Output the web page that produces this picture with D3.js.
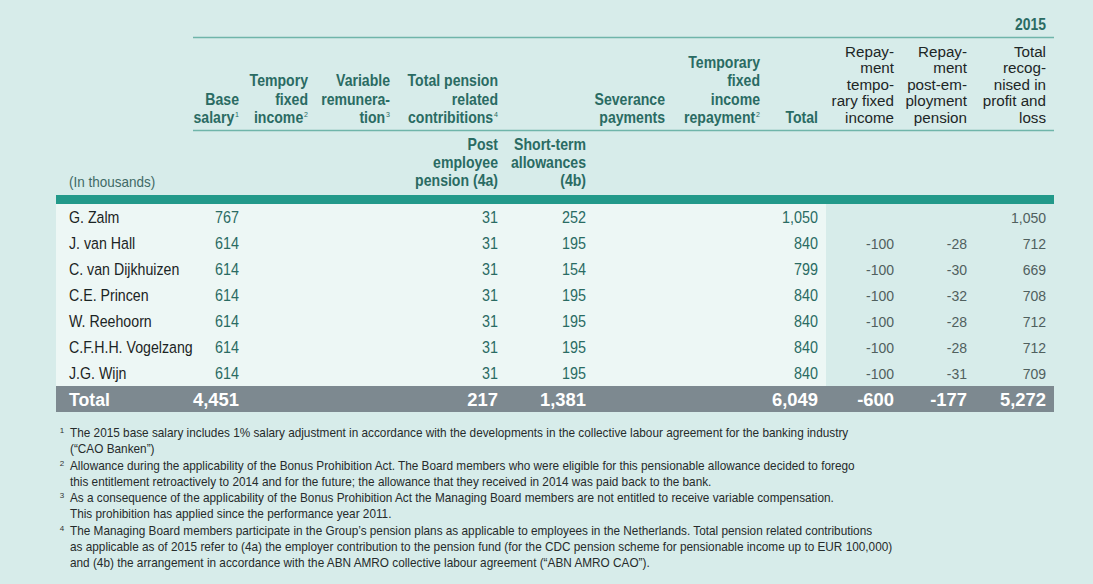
<!DOCTYPE html>
<html>
<head>
<meta charset="utf-8">
<script src="https://cdn.jsdelivr.net/npm/d3@7"></script>
<style>
  body { margin: 0; background: #d7ecea; }
  svg { display: block; }
</style>
</head>
<body>
<div id="chart"></div>
<script>
// rows
const names = ["G. Zalm", "J. van Hall", "C. van Dijkhuizen", "C.E. Princen", "W. Reehoorn", "C.F.H.H. Vogelzang", "J.G. Wijn"];

// series values (in thousands), null = empty cell
const baseSalary = [767, 614, 614, 614, 614, 614, 614];
const temporyFixedIncome = [null, null, null, null, null, null, null];
const variableRemuneration = [null, null, null, null, null, null, null];
const postEmployeePension = [31, 31, 31, 31, 31, 31, 31];
const shortTermAllowances = [252, 195, 154, 195, 195, 195, 195];
const severancePayments = [null, null, null, null, null, null, null];
const tempFixedIncomeRepayment = [null, null, null, null, null, null, null];
const totalComp = [1050, 840, 799, 840, 840, 840, 840];
const repayTemporary = [null, -100, -100, -100, -100, -100, -100];
const repayPension = [null, -28, -30, -32, -28, -28, -31];
const totalRecognised = [1050, 712, 669, 708, 712, 712, 709];

// totals row as printed
const totalsRow = [4451, null, null, 217, 1381, null, null, 6049, -600, -177, 5272];

const yearLabel = "2015";
const unitLabel = "(In thousands)";

// header labels, one entry per line, [text, superscript]
const headers = [
  [["Base"], ["salary", "1"]],
  [["Tempory"], ["fixed"], ["income", "2"]],
  [["Variable"], ["remunera-"], ["tion", "3"]],
  [["Total pension"], ["related"], ["contribitions", "4"]],
  [],
  [["Severance"], ["payments"]],
  [["Temporary"], ["fixed"], ["income"], ["repayment", "2"]],
  [["Total"]],
  [["Repay-"], ["ment"], ["tempo-"], ["rary fixed"], ["income"]],
  [["Repay-"], ["ment"], ["post-em-"], ["ployment"], ["pension"]],
  [["Total"], ["recog-"], ["nised in"], ["profit and"], ["loss"]]
];
const subHeaders = [
  null, null, null,
  ["Post", "employee", "pension (4a)"],
  ["Short-term", "allowances", "(4b)"],
  null, null, null, null, null, null
];

const footnotes = [
  ["1", ["The 2015 base salary includes 1% salary adjustment in accordance with the developments in the collective labour agreement for the banking industry",
         "(\u201CCAO Banken\u201D)"]],
  ["2", ["Allowance during the applicability of the Bonus Prohibition Act. The Board members who were eligible for this pensionable allowance decided to forego",
         "this entitlement retroactively to 2014 and for the future; the allowance that they received in 2014 was paid back to the bank."]],
  ["3", ["As a consequence of the applicability of the Bonus Prohibition Act the Managing Board members are not entitled to receive variable compensation.",
         "This prohibition has applied since the performance year 2011."]],
  ["4", ["The Managing Board members participate in the Group\u2019s pension plans as applicable to employees in the Netherlands. Total pension related contributions",
         "as applicable as of 2015 refer to (4a) the employer contribution to the pension fund (for the CDC pension scheme for pensionable income up to EUR 100,000)",
         "and (4b) the arrangement in accordance with the ABN AMRO collective labour agreement (\u201CABN AMRO CAO\u201D)."]]
];

const columns = [baseSalary, temporyFixedIncome, variableRemuneration, postEmployeePension,
  shortTermAllowances, severancePayments, tempFixedIncomeRepayment, totalComp,
  repayTemporary, repayPension, totalRecognised];

// layout
const width = 1093, height = 584;
const colRight = [239, 308, 390, 498, 586, 665, 760, 818, 894, 967, 1046];
const tableLeft = 56, tableRight = 1054, headLeft = 193, lightRight = 826;
const font = "'Liberation Sans', Arial, Helvetica, sans-serif";
const teal = "#2a6b63";

const fmt = d3.formatLocale({ decimal: ".", thousands: ",", grouping: [3], currency: ["", ""], minus: "-" }).format(",");

const svg = d3.select("#chart").append("svg")
  .attr("width", width).attr("height", height)
  .attr("viewBox", [0, 0, width, height]);

svg.append("rect").attr("width", width).attr("height", height).attr("fill", "#d7ecea");

// narrow text: the print uses a condensed face, so squeeze horizontally
function ctext(parent, x, y, o) {
  return parent.append("text")
    .attr("transform", `translate(${x},${y}) scale(${o.sx || 1},1)`)
    .attr("text-anchor", o.anchor || "start")
    .attr("font-family", font)
    .attr("font-size", o.size)
    .attr("font-weight", o.bold ? "bold" : "normal")
    .attr("fill", o.fill);
}

const y = d3.scaleBand().domain(d3.range(names.length + 1)).range([204, 412]).paddingInner(0);

// light body background for left part of table
svg.append("rect")
  .attr("x", tableLeft).attr("y", y(0))
  .attr("width", lightRight - tableLeft).attr("height", y(names.length) - y(0))
  .attr("fill", "#edf7f5");

// teal bar and header rules
svg.append("rect").attr("x", tableLeft).attr("y", 195).attr("width", tableRight - tableLeft).attr("height", 9).attr("fill", "#22998a");
svg.append("line").attr("x1", headLeft).attr("x2", tableRight).attr("y1", 37.5).attr("y2", 37.5).attr("stroke", "#6fb5aa").attr("stroke-width", 1.5);
svg.append("line").attr("x1", headLeft).attr("x2", tableRight).attr("y1", 130.5).attr("y2", 130.5).attr("stroke", "#6fb5aa").attr("stroke-width", 1.5);

// total row bar
svg.append("rect")
  .attr("x", tableLeft).attr("y", y(names.length))
  .attr("width", tableRight - tableLeft).attr("height", y.bandwidth())
  .attr("fill", "#7d8990");

ctext(svg, colRight[10], 30, { anchor: "end", size: 16, bold: true, sx: 0.87, fill: teal }).text(yearLabel);

// header lines
headers.forEach((lines, i) => {
  const dark = i >= 8;
  const lh = dark ? 16.6 : 18.4;
  lines.forEach((ln, j) => {
    const t = ctext(svg, colRight[i], 123 - (lines.length - 1 - j) * lh, dark
      ? { anchor: "end", size: 15.5, sx: 0.98, fill: "#1d2626" }
      : { anchor: "end", size: 16, bold: true, sx: 0.88, fill: teal });
    t.append("tspan").text(ln[0]);
    if (ln[1]) t.append("tspan").attr("font-size", 8).attr("dy", -6).attr("dx", 1).attr("font-weight", "normal").text(ln[1]);
  });
});

// subheaders
subHeaders.forEach((lines, i) => {
  if (!lines) return;
  lines.forEach((ln, j) => {
    ctext(svg, colRight[i], 150 + j * 18.2, { anchor: "end", size: 16, bold: true, sx: 0.88, fill: teal }).text(ln);
  });
});

ctext(svg, 69, 187, { size: 15, sx: 0.9, fill: "#3f6a66" }).text(unitLabel);

// body rows
const rows = svg.append("g").selectAll("g").data(names).join("g")
  .attr("transform", (d, i) => `translate(0,${y(i) + y.bandwidth() / 2 + 6})`);

rows.each(function (d, i) {
  const row = d3.select(this);
  ctext(row, 69, 0, { size: 16.5, sx: 0.86, fill: "#1b2424" }).text(d);
  columns.forEach((col, c) => {
    if (col[i] == null) return;
    const right = c >= 8;
    ctext(row, colRight[c], 0, right
      ? { anchor: "end", size: 14, fill: "#50605e" }
      : { anchor: "end", size: 16.5, sx: 0.87, fill: teal })
      .text(fmt(col[i]));
  });
});

// totals row
const ty = y(names.length) + y.bandwidth() / 2 + 7;
ctext(svg, 69, ty, { size: 19, bold: true, sx: 0.93, fill: "#ffffff" }).text("Total");
totalsRow.forEach((v, c) => {
  if (v == null) return;
  ctext(svg, colRight[c], ty, { anchor: "end", size: 19, bold: true, sx: 0.97, fill: "#ffffff" }).text(fmt(v));
});

// footnotes
let fy = 437;
const noteG = svg.append("g");
footnotes.forEach(([num, lines]) => {
  ctext(noteG, 62, fy - 4, { anchor: "middle", size: 8, fill: "#333" }).text(num);
  lines.forEach(ln => {
    ctext(noteG, 70, fy, { size: 12.5, sx: 0.86, fill: "#262b2b" }).attr("class", "note").text(ln);
    fy += 16.25;
  });
});
// fit first footnote line to the printed measure
const firstW = noteG.select(".note").node().getComputedTextLength();
const sxNote = 778 / firstW;
noteG.selectAll(".note").attr("transform", function () {
  return this.getAttribute("transform").replace(/scale\([^)]*\)/, `scale(${sxNote},1)`);
});
</script>
</body>
</html>
